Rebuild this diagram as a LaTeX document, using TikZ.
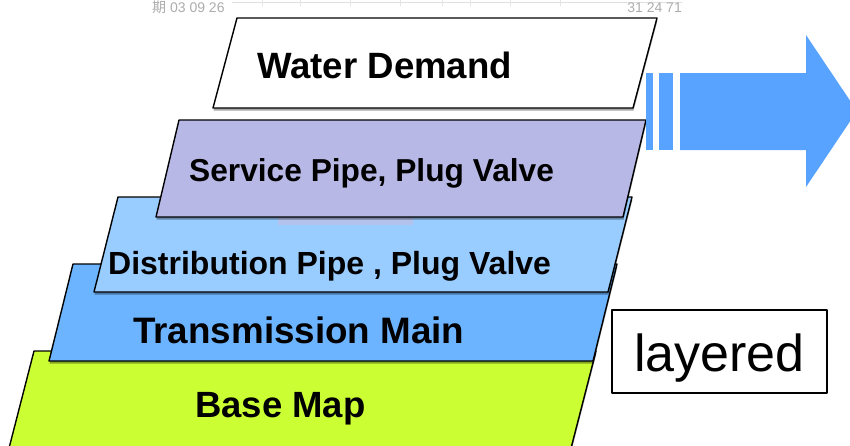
\documentclass[tikz,border=0pt]{standalone}
\usepackage{fontspec}
\setmainfont{Liberation Sans}
\newfontfamily\cjk{Noto Sans CJK SC}
\usetikzlibrary{shadows}
\definecolor{servicecol}{RGB}{184,184,230}
\definecolor{distcol}{RGB}{153,204,255}
\definecolor{transcol}{RGB}{108,180,255}
\definecolor{basecol}{RGB}{204,255,51}
\definecolor{arrowcol}{RGB}{87,163,255}
\begin{document}
\begin{tikzpicture}[x=1pt,y=-1pt,line join=round,line cap=round]
				\tikzset{layer/.style={draw=black,line width=1.4pt,drop shadow={shadow xshift=0.5pt,shadow yshift=-2.5pt,opacity=0.35,fill=black}},
					layername/.style={anchor=base west,inner sep=0pt,font=\bfseries}}
				\useasboundingbox (0,0) rectangle (850,445);
				\begin{scope}
					\clip (0,0) rectangle (850,445);
					\draw[gray!25,line width=0.5pt] (232,2)--(682,2);
					\foreach \x in {262,300,350,400,442,470,510,560}
					\draw[gray!20,line width=0.4pt] (\x,0)--(\x,6);
					\node[anchor=base west,inner sep=0pt,text=gray!65,font=\fontsize{14}{14}\selectfont] (rulerleft) at (152,12) {{\cjk 期} 03 09 26};
					\node[anchor=base east,inner sep=0pt,text=gray!65,font=\fontsize{14}{14}\selectfont] (rulerright) at (682,12) {31 24 71};
					\filldraw[layer,fill=basecol] (34,351)--(596,351)--(569,456)--(7,456)--cycle;
					\filldraw[layer,fill=transcol] (73,264)--(617,264)--(593,361)--(49,361)--cycle;
					\filldraw[layer,fill=distcol] (118,197)--(632,197)--(608,292)--(94,292)--cycle;
					\fill[servicecol!70!pink,opacity=0.5] (278,218) rectangle (413,225);
					\filldraw[layer,fill=servicecol] (179,120)--(646,120)--(623,217)--(156,217)--cycle;
					\filldraw[layer,fill=white] (237,18)--(657,18)--(633,108)--(213,108)--cycle;
					\fill[arrowcol] (646,73) rectangle (653,150);
					\fill[arrowcol] (659,73) rectangle (673,150);
					\fill[arrowcol] (680,73)--(806,73)--(806,35)--(857,111)--(806,187)--(806,150)--(680,150)--cycle;
				\end{scope}
				\node[layername,font=\bfseries\fontsize{36.6}{40}\selectfont] (water) at (257,78) {Water Demand};
				\node[layername,font=\bfseries\fontsize{31.7}{36}\selectfont] (service) at (189,181) {Service Pipe, Plug Valve};
				\node[layername,font=\bfseries\fontsize{32}{36}\selectfont] (dist) at (108,274) {Distribution Pipe , Plug Valve};
				\node[layername,font=\bfseries\fontsize{36.8}{40}\selectfont] (trans) at (133,343) {Transmission Main};
				\node[layername,font=\bfseries\fontsize{36.5}{40}\selectfont] (base) at (195,417) {Base Map};
				\node[draw=black,line width=1.2pt,minimum width=215pt,minimum height=83pt,inner sep=0pt] (box) at (719.5,351.5) {};
				\node[anchor=base,inner sep=0pt,font=\fontsize{52}{56}\selectfont] (layered) at (box.center) [yshift=-20pt] {layered};
			\end{tikzpicture}
\end{document}
